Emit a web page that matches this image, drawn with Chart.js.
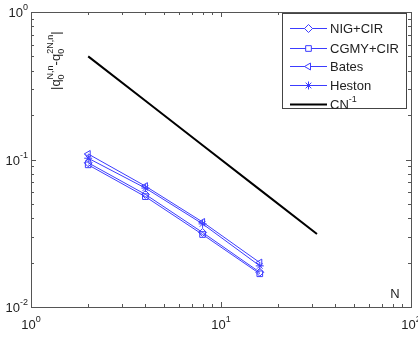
<!DOCTYPE html>
<html>
<head>
<meta charset="utf-8">
<script src="https://cdn.jsdelivr.net/npm/chart.js@4"></script>
<style>
  html, body { margin: 0; padding: 0; background: #fff; }
  #wrap { width: 418px; height: 337px; }
</style>
</head>
<body>
<div id="wrap"><canvas id="c" width="418" height="337"></canvas></div>
<script>
// values
const nValues = [2, 4, 8, 16];
const nigCir = [0.095, 0.058, 0.032, 0.0172];
const cgmyCir = [0.092, 0.056, 0.031, 0.0168];
const bates = [0.109, 0.066, 0.0377, 0.020];
const heston = [0.102, 0.064, 0.0366, 0.019];
const cnN = [2, 4, 8, 16, 32];
const cnVals = [0.5, 0.25, 0.125, 0.0625, 0.03125];
const xTicks = [1, 10, 100];
const yTicks = [0.01, 0.1, 1];

const BLUE = 'rgb(60,60,255)';
const FONT = '"Liberation Sans", Arial, sans-serif';

function pts(xs, ys) { return xs.map((x, i) => ({ x: x, y: ys[i] })); }

function series(label, ys, style, rot) {
  return {
    label, data: pts(nValues, ys), borderColor: BLUE, borderWidth: 1,
    pointStyle: style, pointRotation: rot || 0, pointRadius: 4,
    pointBorderColor: BLUE, pointBackgroundColor: 'rgba(0,0,0,0)', pointBorderWidth: 1
  };
}

// superscript label like 10^-1
function supText(ctx, base, exp, x, y, align) {
  ctx.font = '13px ' + FONT;
  const bw = ctx.measureText(base).width;
  ctx.font = '9px ' + FONT;
  const ew = ctx.measureText(exp).width;
  let x0 = x;
  if (align === 'right') x0 = x - bw - ew;
  if (align === 'center') x0 = x - (bw + ew) / 2;
  ctx.textAlign = 'left';
  ctx.textBaseline = 'alphabetic';
  ctx.font = '13px ' + FONT;
  ctx.fillText(base, x0, y);
  ctx.font = '9px ' + FONT;
  ctx.fillText(exp, x0 + bw, y - 7);
}

// q with subscript 0 and superscript sup, returns width used
function qTerm(ctx, x, sup) {
  ctx.font = '13px ' + FONT;
  ctx.fillText('q', x, 0);
  const qw = ctx.measureText('q').width;
  ctx.font = '9px ' + FONT;
  ctx.fillText(sup, x + qw, -7);
  ctx.fillText('0', x + qw, 4);
  return qw + Math.max(ctx.measureText(sup).width, ctx.measureText('0').width);
}

const axesPlugin = {
  id: 'matlabAxes',
  afterDatasetsDraw(chart) {
    const { ctx, chartArea: a, scales } = chart;
    const xs = scales.x, ys = scales.y;
    ctx.save();
    ctx.strokeStyle = '#555';
    ctx.lineWidth = 1;
    ctx.strokeRect(a.left + 0.5, a.top + 0.5, a.right - a.left, a.bottom - a.top);
    ctx.beginPath();
    // x ticks, inward on bottom and top
    for (let d = 1; d < 100; d *= 10) {
      for (let m = 1; m <= 10; m++) {
        const px = Math.round(xs.getPixelForValue(d * m)) + 0.5;
        const len = (m === 1 || m === 10) ? 5 : 3;
        ctx.moveTo(px, a.bottom); ctx.lineTo(px, a.bottom - len);
        ctx.moveTo(px, a.top); ctx.lineTo(px, a.top + len);
      }
    }
    // y ticks, inward on left and right
    for (let d = 0.01; d < 1; d *= 10) {
      for (let m = 1; m <= 10; m++) {
        const py = Math.round(ys.getPixelForValue(d * m)) + 0.5;
        const len = (m === 1 || m === 10) ? 5 : 3;
        ctx.moveTo(a.left, py); ctx.lineTo(a.left + len, py);
        ctx.moveTo(a.right, py); ctx.lineTo(a.right - len, py);
      }
    }
    ctx.stroke();

    ctx.fillStyle = '#222';
    xTicks.forEach(v => {
      const px = xs.getPixelForValue(v);
      supText(ctx, '10', String(Math.round(Math.log10(v))), px, a.bottom + 22, 'center');
    });
    yTicks.forEach(v => {
      const py = ys.getPixelForValue(v);
      supText(ctx, '10', String(Math.round(Math.log10(v))), a.left - 3, py + 5, 'right');
    });

    // axis labels inside the box
    ctx.font = '13px ' + FONT;
    ctx.textAlign = 'center';
    ctx.fillText('N', 395, 298);

    ctx.save();
    ctx.translate(60, 90);
    ctx.rotate(-Math.PI / 2);
    ctx.textAlign = 'left';
    ctx.textBaseline = 'alphabetic';
    let x = 0;
    ctx.font = '13px ' + FONT;
    ctx.fillText('|', x, 0);
    x += ctx.measureText('|').width;
    x += qTerm(ctx, x, 'N,n');
    ctx.font = '13px ' + FONT;
    ctx.fillText('-', x, 0);
    x += ctx.measureText('-').width;
    x += qTerm(ctx, x, '2N,n');
    ctx.font = '13px ' + FONT;
    ctx.fillText('|', x, 0);
    ctx.restore();

    // legend box
    const lx = 282, ly = 13, lw = 124, lh = 95;
    ctx.fillStyle = '#fff';
    ctx.fillRect(lx, ly, lw, lh);
    ctx.strokeStyle = '#444';
    ctx.strokeRect(lx + 0.5, ly + 0.5, lw, lh);
    const rows = [28, 48, 66, 85, 104];
    chart.data.datasets.forEach((ds, i) => {
      const ry = rows[i] + 0.5;
      ctx.strokeStyle = ds.borderColor;
      ctx.lineWidth = ds.borderWidth;
      ctx.beginPath();
      ctx.moveTo(290, ry); ctx.lineTo(327, ry);
      ctx.stroke();
      if (ds.pointRadius > 0) {
        ctx.fillStyle = '#fff';
        ctx.lineWidth = 1;
        Chart.helpers.drawPoint(ctx, {
          pointStyle: ds.pointStyle, rotation: ds.pointRotation,
          radius: ds.pointRadius, borderWidth: 1
        }, 308.5, ry);
      }
      ctx.fillStyle = '#222';
      ctx.textAlign = 'left';
      ctx.textBaseline = 'middle';
      ctx.font = '13px ' + FONT;
      if (ds.label === 'CN^-1') {
        ctx.fillText('CN', 330, ry + 1);
        const w = ctx.measureText('CN').width;
        ctx.font = '9px ' + FONT;
        ctx.fillText('-1', 330 + w, ry - 5);
      } else {
        ctx.fillText(ds.label, 330, ry + 1);
      }
    });
    ctx.restore();
  }
};

new Chart(document.getElementById('c'), {
  type: 'line',
  data: {
    datasets: [
      series('NIG+CIR', nigCir, 'rectRot'),
      series('CGMY+CIR', cgmyCir, 'rect'),
      series('Bates', bates, 'triangle', -90),
      series('Heston', heston, 'star'),
      {
        label: 'CN^-1', data: pts(cnN, cnVals), borderColor: '#000',
        borderWidth: 2, pointRadius: 0
      }
    ]
  },
  options: {
    responsive: false,
    animation: false,
    layout: { padding: { left: 31, top: 12, right: 7, bottom: 30 } },
    plugins: { legend: { display: false }, tooltip: { enabled: false } },
    scales: {
      x: { type: 'logarithmic', min: 1, max: 100, display: false },
      y: { type: 'logarithmic', min: 0.01, max: 1, display: false }
    }
  },
  plugins: [axesPlugin]
});
</script>
</body>
</html>
